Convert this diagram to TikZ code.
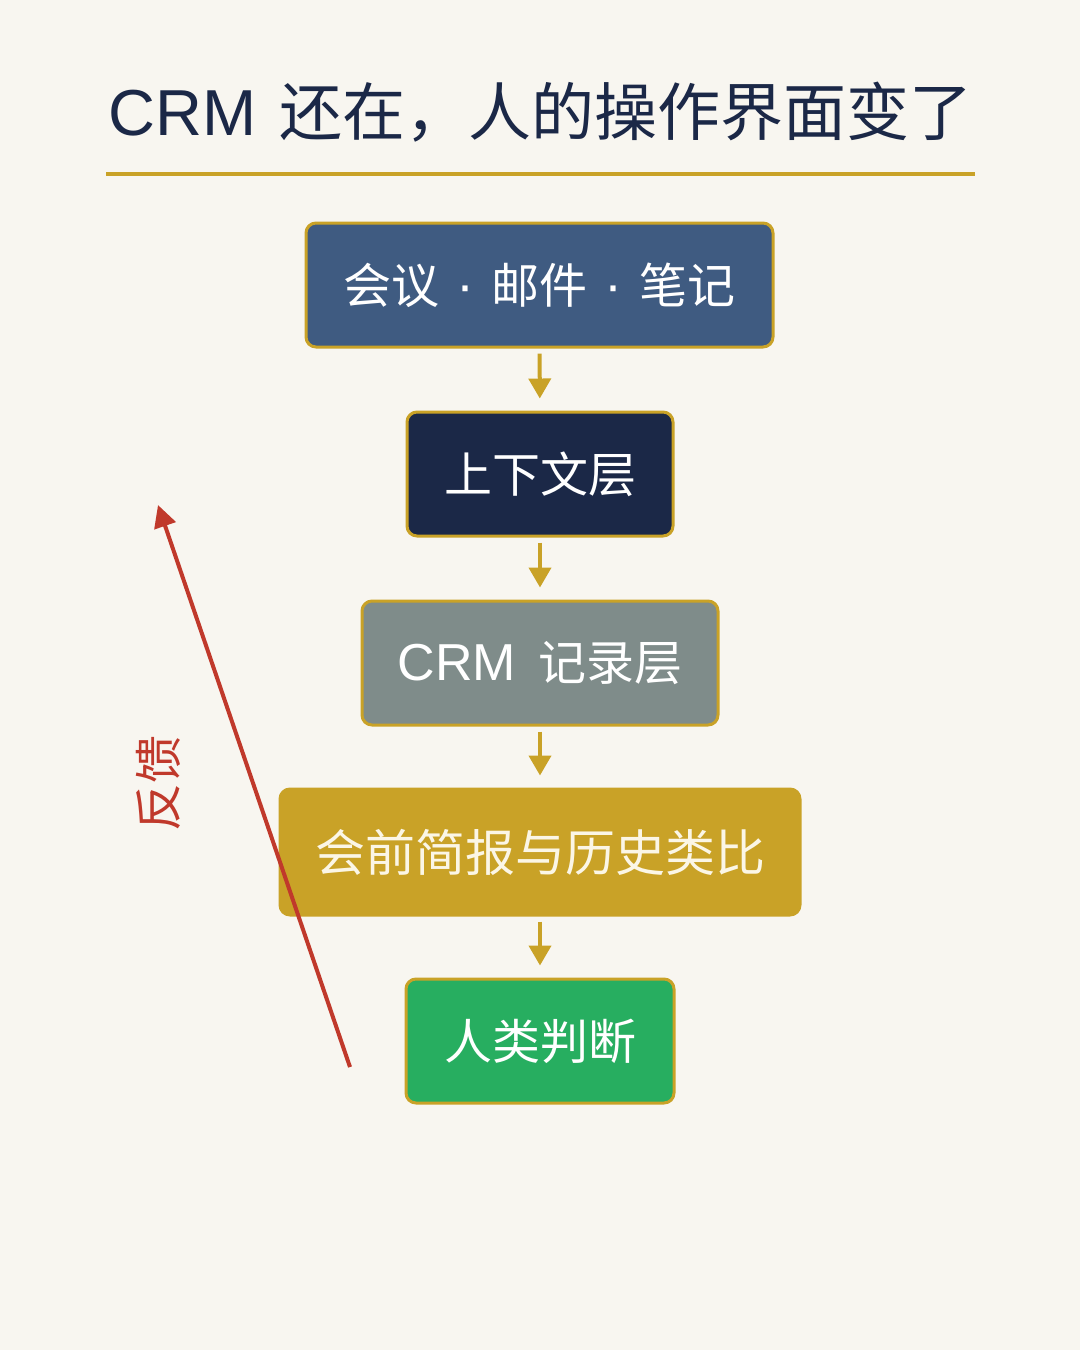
\documentclass[tikz,border=0pt]{standalone}
\usepackage{fontspec}
\setmainfont{Noto Sans CJK SC}
\newfontfamily\latinfont{Liberation Sans}
\usetikzlibrary{arrows.meta}
\definecolor{bgc}{HTML}{F8F6F0}
\definecolor{navy}{HTML}{1B2847}
\definecolor{gold}{HTML}{C9A227}
\definecolor{steel}{HTML}{3F5B81}
\definecolor{greyc}{HTML}{7F8C8A}
\definecolor{greenc}{HTML}{27AE60}
\definecolor{redc}{HTML}{C0392B}
\definecolor{cream}{HTML}{FBF6E6}
\begin{document}
\begin{tikzpicture}[x=1pt,y=-1pt,
  layerbox/.style={rectangle, rounded corners=10pt, draw=gold, line width=3pt,
    minimum height=124pt, inner sep=0pt, text=white,
    font=\fontsize{48}{58}\selectfont},
  flowarrow/.style={draw=gold, line width=4pt,
    -{Triangle[length=20pt,width=22pt]}, shorten <=5pt, shorten >=12pt}]
\useasboundingbox[fill=bgc] (0,0) rectangle (1080,1350);
\node[anchor=base west, inner sep=0pt, text=navy, font=\fontsize{63}{74}\selectfont] (title) at (108,135) {{\latinfont\fontsize{65}{74}\selectfont CRM}\hspace{23pt}还在，人的操作界面变了};
\coordinate (rl) at (106,174);
\coordinate (rr) at (975,174);
\draw[gold, line width=4pt] (rl) -- (rr);
\node[layerbox, fill=steel, minimum width=467pt] (b1) at (539.5,285) {会议\hspace{17pt}{\latinfont\fontsize{54}{58}\selectfont ·}\hspace{17pt}邮件\hspace{17pt}{\latinfont\fontsize{54}{58}\selectfont ·}\hspace{17pt}笔记};
\node[layerbox, fill=navy, minimum width=266pt] (b2) at (540,474) {上下文层};
\node[layerbox, fill=greyc, minimum width=356pt] (b3) at (540,663) {{\latinfont\fontsize{52}{60}\selectfont CRM}\hspace{22pt}记录层};
\node[layerbox, fill=gold, draw=gold, minimum width=520pt, minimum height=126pt, text=cream, font=\fontsize{50}{60}\selectfont] (b4) at (540,852) {会前简报与历史类比};
\node[layerbox, fill=greenc, minimum width=268pt] (b5) at (540,1041) {人类判断};
\draw[flowarrow] (b1) -- (b2);
\draw[flowarrow] (b2) -- (b3);
\draw[flowarrow] (b3) -- (b4);
\draw[flowarrow] (b4) -- (b5);
\coordinate (fbs) at (350,1067);
\coordinate (fbe) at (158,505);
\draw[redc, line width=4pt, -{Triangle[length=22pt,width=22pt]}] (fbs) -- (fbe);
\node[rotate=90, text=redc, inner sep=0pt, font=\fontsize{48}{58}\selectfont] (fb) at (158,783) {反馈};
\end{tikzpicture}
\end{document}
